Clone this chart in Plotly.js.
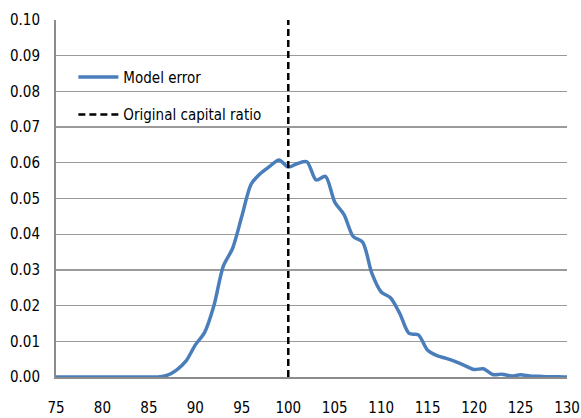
<!DOCTYPE html>
<html>
<head>
<meta charset="utf-8">
<script src="https://cdn.plot.ly/plotly-3.0.1.min.js"></script>
<style>html,body{margin:0;padding:0;background:#fff;}#chart{width:581px;height:418px;}</style>
</head>
<body>
<div id="chart"></div>
<script>
// Capital ratio (x) and density (y) of the model error distribution
const capitalRatio = [75,76,77,78,79,80,81,82,83,84,85,86,87,88,89,90,91,92,93,94,95,96,97,98,99,100,101,102,103,104,105,106,107,108,109,110,111,112,113,114,115,116,117,118,119,120,121,122,123,124,125,126,127,128,129,130];
const modelError = [0,0,0,0,0,0,0,0,0,0,0,0,0.0005,0.002,0.0045,0.009,0.0125,0.02,0.031,0.036,0.045,0.054,0.057,0.059,0.0608,0.0588,0.0598,0.0603,0.0552,0.0562,0.049,0.0455,0.0393,0.0378,0.029,0.0238,0.0222,0.0178,0.0122,0.0118,0.0075,0.006,0.0052,0.0043,0.0032,0.0021,0.0023,0.0007,0.0008,0.0003,0.0006,0.0003,0.0002,0.0001,0.0001,0];
const originalRatioX = [100, 100];
const originalRatioY = [0, 0.1];
const seriesNames = ["Model error", "Original capital ratio"];
const xTicks = [75,80,85,90,95,100,105,110,115,120,125,130];
const yTicks = [0,0.01,0.02,0.03,0.04,0.05,0.06,0.07,0.08,0.09,0.10];

const FONT = '"DejaVu Sans Condensed", "DejaVu Sans", Arial, sans-serif';

const traces = [
  {x: capitalRatio, y: modelError, type: 'scatter', mode: 'lines', name: seriesNames[0],
   legendgroup: 'a', line: {color: '#4a7ebb', width: 3.5, shape: 'spline', smoothing: 0.8}},
  {x: originalRatioX, y: originalRatioY, type: 'scatter', mode: 'lines', name: seriesNames[1],
   legendgroup: 'b', line: {color: '#000000', width: 2.5, dash: '7px,4px'}}
];

const layout = {
  width: 581, height: 418,
  margin: {l: 56, r: 14, t: 20, b: 41},
  paper_bgcolor: '#ffffff', plot_bgcolor: '#ffffff',
  font: {family: FONT, size: 15, color: '#000'},
  showlegend: true,
  legend: {x: 0.034, y: 0.886, xanchor: 'left', yanchor: 'top', bgcolor: 'rgba(0,0,0,0)',
           font: {family: FONT, size: 15, color: '#000'}, traceorder: 'grouped', tracegroupgap: 15, itemwidth: 40},
  xaxis: {range: [75, 130], tickvals: xTicks, ticktext: xTicks.map(String), showgrid: false, zeroline: false,
          showline: true, linecolor: '#8c8c8c', linewidth: 2, ticks: '', ticklabelstandoff: 16,
          ticklabeloverflow: 'allow', fixedrange: true},
  yaxis: {range: [0, 0.1], tickvals: yTicks, ticktext: yTicks.map(v => v.toFixed(2)), showgrid: true,
          gridcolor: '#9a9a9a', gridwidth: 1.3, zeroline: false, showline: true, linecolor: '#8c8c8c',
          linewidth: 2, ticks: '', ticklabelstandoff: 11, ticklabeloverflow: 'allow', fixedrange: true,
          tickfont: {family: FONT, size: 15, color: '#000'}}
};

Plotly.newPlot('chart', traces, layout, {displayModeBar: false, staticPlot: true});
</script>
</body>
</html>
